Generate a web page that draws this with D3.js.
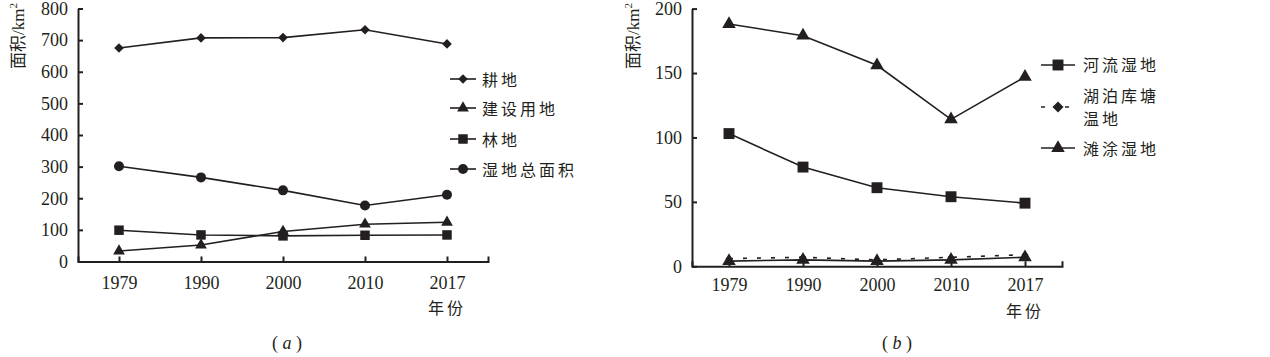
<!DOCTYPE html>
<html><head><meta charset="utf-8">
<script src="https://cdn.jsdelivr.net/npm/d3@7/dist/d3.min.js"></script>
<style>
body{margin:0;background:#fff;}
svg{display:block;}
</style></head>
<body><svg id="c" width="1270" height="357"></svg>
<script>
// ---------- data ----------
const years = ["1979","1990","2000","2010","2017"];
// panel (a)
const farmland     = [675, 707, 708, 733, 688];   // 耕地
const construction = [33, 52, 95, 118, 124];      // 建设用地
const forest       = [99, 84, 81, 83, 84];        // 林地
const wetlandTotal = [301, 266, 225, 177, 211];   // 湿地总面积
const ticksA = [0,100,200,300,400,500,600,700,800];
// panel (b)
const riverWetland = [103, 77, 61, 54, 49];       // 河流湿地
const lakeWetland  = [6, 7, 5, 7, 9];             // 湖泊库塘温地 (dashed)
const tidalWetland = [188, 179, 156, 114, 147];   // 滩涂湿地
const tidalLow     = [4, 5, 4, 5, 7];             // low solid line with triangles
const ticksB = [0,50,100,150,200];

const labelsA = ["耕地","建设用地","林地","湿地总面积"];
const labelsB = ["河流湿地","湖泊库塘","温地","滩涂湿地"];

const INK = "#231f20";
const SERIF = "'Liberation Serif','DejaVu Serif',serif";
const CJK = "'Noto Sans CJK SC','Noto Sans',sans-serif";
const svg = d3.select("#c");

function marker(g, type, x, y, s){
  if(type==="circle"){
    g.append("circle").attr("cx",x).attr("cy",y).attr("r",5*s).attr("fill",INK);
  } else if(type==="diamond"){
    const r = 4.8*s;
    g.append("path").attr("d",`M0,${-r}L${r},0L0,${r}L${-r},0Z`)
      .attr("transform",`translate(${x},${y})`).attr("fill",INK);
  } else {
    const sym = {square:d3.symbolSquare, triangle:d3.symbolTriangle}[type];
    const size = {square:90, triangle:60}[type]*s*s;
    g.append("path").attr("d", d3.symbol(sym, size)()).attr("transform",`translate(${x},${y})`).attr("fill",INK);
  }
}

function panel(opt){
  const x = d3.scalePoint().domain(years).range(opt.xr).padding(0.5);
  const y = d3.scaleLinear().domain(opt.yd).range(opt.yr);
  const g = svg.append("g");
  // axes
  const ax = g.append("g").attr("transform",`translate(0,${opt.yr[0]})`)
    .call(d3.axisBottom(x).tickSize(-5).tickSizeOuter(-5).tickPadding(opt.xpad));
  const ay = g.append("g").attr("transform",`translate(${opt.xr[0]},0)`)
    .call(d3.axisLeft(y).tickValues(opt.ticks).tickSize(-5).tickSizeOuter(0).tickPadding(10));
  [ax,ay].forEach(a=>{
    a.attr("font-family",SERIF).attr("font-size",18);
    a.selectAll("path,line").attr("stroke",INK).attr("stroke-width",2);
    a.selectAll("text").attr("font-family",SERIF).attr("font-size",18).attr("fill",INK);
  });
  // series
  const line = d3.line().x((d,i)=>x(years[i])).y(d=>y(d));
  opt.series.forEach(s=>{
    g.append("path").datum(s.values).attr("d",line).attr("fill","none")
      .attr("stroke",INK).attr("stroke-width",1.6)
      .attr("stroke-dasharray", s.dash ? "4,10" : null);
    s.values.forEach((v,i)=>{ if(s.marker) marker(g, s.marker, x(years[i]), y(v), s.ms || opt.ms); });
  });
  // y label
  const yl = g.append("text").attr("transform",`translate(${opt.ylx},${opt.yly}) rotate(-90)`)
    .attr("fill",INK).attr("font-size",17);
  yl.append("tspan").attr("font-family",CJK).text("面积");
  yl.append("tspan").attr("font-family",SERIF).text("/km");
  yl.append("tspan").attr("font-family",SERIF).attr("font-size",11).attr("dy",-7).text("2");
  // x label
  g.append("text").attr("font-family",CJK).attr("x",x(years[4])).attr("y",opt.xly)
    .attr("text-anchor","middle").attr("dominant-baseline","central")
    .attr("font-size",16).attr("letter-spacing",3).attr("fill",INK).text("年份");
  // caption
  const cap = g.append("text").attr("font-family",SERIF).attr("x",opt.capx).attr("y",343)
    .attr("text-anchor","middle").attr("dominant-baseline","central").attr("font-size",18).attr("fill",INK);
  cap.append("tspan").text("( ");
  cap.append("tspan").attr("font-style","italic").text(opt.cap);
  cap.append("tspan").text(" )");
  // legend
  opt.legend.forEach(L=>{
    g.append("line").attr("x1",opt.lx[0]).attr("x2",opt.lx[1]).attr("y1",L.y).attr("y2",L.y)
      .attr("stroke",INK).attr("stroke-width",1.6).attr("stroke-dasharray",L.dash?"4,8":null);
    marker(g, L.marker, (opt.lx[0]+opt.lx[1])/2, L.y, opt.ms);
    L.text.forEach((t,k)=>{
      g.append("text").attr("font-family",CJK).attr("x",opt.tx).attr("y",L.ty[k])
        .attr("dominant-baseline","central").attr("font-size",16).attr("letter-spacing",3)
        .attr("fill",INK).text(t);
    });
  });
}

panel({
  xr:[78,488], yr:[261.5,8.5], yd:[0,800], ticks:ticksA, xpad:15,
  ylx:24, yly:69, xly:307, capx:287, cap:"a", ms:1,
  series:[
    {values:farmland, marker:"diamond"},
    {values:construction, marker:"triangle"},
    {values:forest, marker:"square"},
    {values:wetlandTotal, marker:"circle"}
  ],
  lx:[450,476], tx:482,
  legend:[
    {y:79, ty:[79], marker:"diamond", text:[labelsA[0]]},
    {y:108, ty:[108], marker:"triangle", text:[labelsA[1]]},
    {y:139, ty:[139], marker:"square", text:[labelsA[2]]},
    {y:169, ty:[169], marker:"circle", text:[labelsA[3]]}
  ]
});

panel({
  xr:[692,1062], yr:[266.3,8.6], yd:[0,200], ticks:ticksB, xpad:12,
  ylx:639, yly:69, xly:310, capx:897, cap:"b", ms:1.15,
  series:[
    {values:lakeWetland, marker:"diamond", dash:true, ms:0.7},
    {values:tidalLow, marker:"triangle"},
    {values:riverWetland, marker:"square"},
    {values:tidalWetland, marker:"triangle"}
  ],
  lx:[1041,1075], tx:1083,
  legend:[
    {y:65, ty:[64], marker:"square", text:[labelsB[0]]},
    {y:107, ty:[95,118], marker:"diamond", dash:true, text:[labelsB[1],labelsB[2]]},
    {y:148, ty:[148], marker:"triangle", text:[labelsB[3]]}
  ]
});
</script></body></html>
